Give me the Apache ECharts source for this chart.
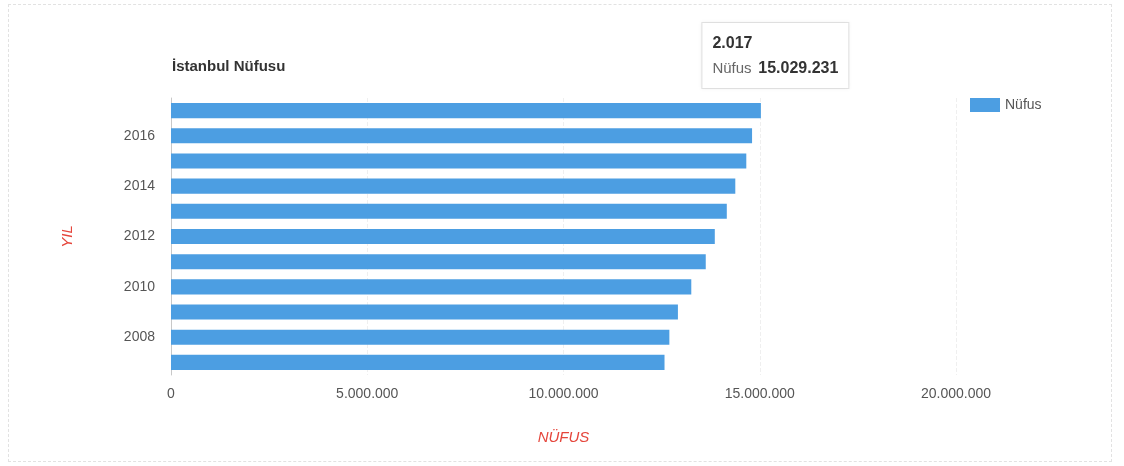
<!DOCTYPE html>
<html>
<head>
<meta charset="utf-8">
<script src="https://cdn.jsdelivr.net/npm/echarts@6/dist/echarts.min.js"></script>
<style>
  html, body { margin: 0; padding: 0; background: #fff; }
  #frame { position: absolute; left: 8px; top: 4px; width: 1104px; height: 458px; border: 1px dashed #e2e2e2; box-sizing: border-box; }
  #chart { position: absolute; left: 0; top: 0; width: 1124px; height: 466px; }
</style>
</head>
<body>
<div id="frame"></div>
<div id="chart"></div>
<script>
// İstanbul nüfusu, yıllara göre
const years = [2007, 2008, 2009, 2010, 2011, 2012, 2013, 2014, 2015, 2016, 2017];
const population = [12573836, 12697164, 12915158, 13255685, 13624240, 13854740, 14160467, 14377018, 14657434, 14804116, 15029231];
const xTicks = [0, 5000000, 10000000, 15000000, 20000000];

const FONT = "'Liberation Sans', Arial, sans-serif";
const BLUE = '#4c9ee2';

// Turkish style thousands separator: 15029231 -> 15.029.231
function fmt(n) {
  return String(n).replace(/\B(?=(\d{3})+(?!\d))/g, '.');
}

const last = years.length - 1;

const chart = echarts.init(document.getElementById('chart'), null, { renderer: 'canvas' });
chart.setOption({
  animation: false,
  textStyle: { fontFamily: FONT },
  title: {
    text: 'İstanbul Nüfusu',
    left: 167,
    top: 54,
    textStyle: { fontFamily: FONT, fontSize: 15, fontWeight: 'bold', color: '#333' }
  },
  legend: {
    data: ['Nüfus'],
    left: 965,
    top: 93,
    itemWidth: 30,
    itemHeight: 14,
    itemGap: 6,
    icon: 'rect',
    textStyle: { fontFamily: FONT, fontSize: 14, color: '#555' }
  },
  grid: { left: 171, right: 168, top: 98, bottom: 91, containLabel: false },
  xAxis: {
    type: 'value',
    min: xTicks[0],
    max: xTicks[xTicks.length - 1],
    interval: xTicks[1] - xTicks[0],
    name: 'NÜFUS',
    nameLocation: 'middle',
    nameGap: 55,
    nameTextStyle: { fontFamily: FONT, fontSize: 15, fontStyle: 'italic', color: '#e5463c' },
    axisLine: { show: false },
    axisTick: { show: false },
    axisLabel: { margin: 12, fontFamily: FONT, fontSize: 14, color: '#555', formatter: v => fmt(v) },
    splitLine: { show: true, lineStyle: { color: '#efefef', type: 'dashed' } }
  },
  yAxis: {
    type: 'category',
    data: years.map(String),
    name: 'YIL',
    nameLocation: 'middle',
    nameGap: 96,
    nameTextStyle: { fontFamily: FONT, fontSize: 15, fontStyle: 'italic', color: '#e5463c' },
    axisLine: { show: true, lineStyle: { color: '#c8c8c8' } },
    axisTick: { show: false },
    axisLabel: {
      margin: 16,
      fontFamily: FONT,
      fontSize: 14,
      color: '#555',
      interval: (i, v) => Number(v) % 2 === 0
    },
    splitLine: { show: false }
  },
  series: [{
    name: 'Nüfus',
    type: 'bar',
    data: population,
    barCategoryGap: '40%',
    itemStyle: { color: BLUE },
    markPoint: {
      symbol: 'rect',
      symbolSize: 1,
      itemStyle: { color: 'rgba(0,0,0,0)' },
      data: [{ coord: [population[last], String(years[last])] }],
      label: {
        show: true,
        position: [-58, -87],
        align: 'left',
        verticalAlign: 'top',
        backgroundColor: '#fff',
        borderColor: '#e4e4e4',
        borderWidth: 1,
        shadowColor: 'rgba(0,0,0,0.05)',
        shadowBlur: 4,
        padding: [8, 10, 7, 10],
        formatter: '{y|' + fmt(years[last]) + '}\n{n|Nüfus}  {v|' + fmt(population[last]) + '}',
        rich: {
          y: { fontFamily: FONT, fontSize: 16, fontWeight: 'bold', color: '#333', lineHeight: 25 },
          n: { fontFamily: FONT, fontSize: 15, color: '#666', lineHeight: 25 },
          v: { fontFamily: FONT, fontSize: 16, fontWeight: 'bold', color: '#333', lineHeight: 25 }
        }
      }
    }
  }]
});
</script>
</body>
</html>
